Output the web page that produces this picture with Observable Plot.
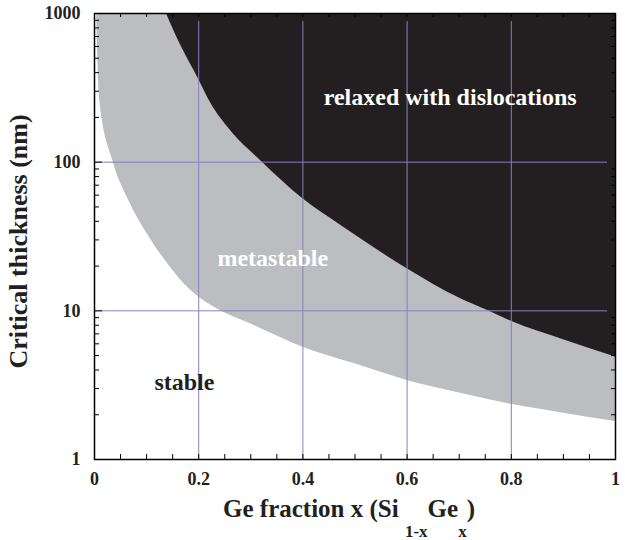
<!DOCTYPE html>
<html>
<head>
<meta charset="utf-8">
<script src="https://cdn.jsdelivr.net/npm/d3@7"></script>
<script src="https://cdn.jsdelivr.net/npm/@observablehq/plot@0.6"></script>
<style>
  body { margin: 0; background: #fff; }
  #chart svg { display: block; }
</style>
</head>
<body>
<div id="chart"></div>
<script>
// Lower boundary (stable / metastable)
const lowerX = [0.004, 0.010, 0.036, 0.066, 0.101, 0.146, 0.172, 0.200, 0.242, 0.300, 0.400, 0.500, 0.600, 0.700, 0.800, 0.900, 1.000];
const lowerY = [1000, 260, 100, 55, 33, 19.6, 15.2, 12.4, 10, 8.15, 5.7, 4.4, 3.4, 2.8, 2.35, 2.05, 1.8];
// Upper boundary (metastable / relaxed with dislocations)
const upperX = [0.138, 0.161, 0.200, 0.223, 0.261, 0.322, 0.400, 0.478, 0.600, 0.700, 0.756, 0.800, 0.900, 1.000];
const upperY = [1000, 657, 360, 250, 163, 100, 56.7, 36.5, 19.2, 12.2, 10, 8.5, 6.4, 4.9];

const xTickLabels = [0, 0.2, 0.4, 0.6, 0.8, 1];
const xMinorTicks = [0.05, 0.1, 0.15, 0.2, 0.25, 0.3, 0.35, 0.4, 0.45, 0.5, 0.55, 0.6, 0.65, 0.7, 0.75, 0.8, 0.85, 0.9, 0.95];
const yTickLabels = [1, 10, 100, 1000];
const yMinorTicks = [2, 3, 4, 5, 6, 7, 8, 9, 20, 30, 40, 50, 60, 70, 80, 90, 200, 300, 400, 500, 600, 700, 800, 900];
const xGrid = [0.2, 0.4, 0.6, 0.8];
const yGrid = [10, 100];

const regionLabels = ["relaxed with dislocations", "metastable", "stable"];
const regionX = [0.44, 0.236, 0.115];
const regionY = [272, 22.5, 3.3];
const regionFill = ["#ffffff", "#ffffff", "#231f20"];

const lower = lowerX.map((x, i) => ({x, y: lowerY[i]}));
const upper = upperX.map((x, i) => ({x, y: upperY[i]}));
const regions = regionLabels.map((t, i) => ({t, x: regionX[i], y: regionY[i], c: regionFill[i]}));

const W = 625, H = 540, mL = 94, mR = 10, mT = 13, mB = 81;
const pw = W - mL - mR, ph = H - mT - mB;
const grey = "#bcbdc0", black = "#231f20", purple = "#8880c4";
const font = "'Liberation Serif', 'Times New Roman', serif";

const chart = Plot.plot({
  width: W, height: H,
  marginLeft: mL, marginRight: mR, marginTop: mT, marginBottom: mB,
  style: {fontFamily: font, fontWeight: "bold", background: "#fff", color: "#231f20"},
  x: {type: "linear", domain: [0, 1]},
  y: {type: "log", domain: [1, 1000]},
  marks: [
    Plot.areaY(lower, {x: "x", y1: "y", y2: () => 1000, fill: grey, curve: "monotone-x"}),
    Plot.areaY(upper, {x: "x", y1: "y", y2: () => 1000, fill: black, curve: "monotone-x"}),
    Plot.ruleX(xGrid, {stroke: purple, strokeWidth: 1, insetTop: 8}),
    Plot.ruleY(yGrid, {stroke: purple, strokeWidth: 1, insetRight: 8}),
    // inward ticks
    Plot.ruleX(xMinorTicks, {stroke: "#000", insetTop: ph - 5}),
    Plot.ruleX(xMinorTicks, {stroke: "#000", insetBottom: ph - 4}),
    Plot.ruleY(yMinorTicks, {stroke: "#000", insetRight: pw - 5}),
    Plot.ruleY(yMinorTicks, {stroke: "#000", insetLeft: pw - 4}),
    Plot.ruleY(yTickLabels, {stroke: "#000", insetRight: pw - 8}),
    Plot.frame({stroke: "#000", strokeWidth: 1.5}),
    Plot.axisX({ticks: xTickLabels, tickSize: 0, tickPadding: 13, tickFormat: d => String(d), fontSize: 18, fontWeight: "bold", label: null}),
    Plot.axisY({ticks: yTickLabels, tickSize: 0, tickPadding: 14, tickFormat: d => String(d), fontSize: 18, fontWeight: "bold", label: null}),
    Plot.text(regions, {x: "x", y: "y", text: "t", fill: "c", textAnchor: "start", fontSize: 24, fontWeight: "bold"}),
    Plot.text(["Critical thickness (nm)"], {frameAnchor: "left", textAnchor: "middle", dx: -76, dy: 5, rotate: -90, fontSize: 26, fontWeight: "bold", fill: "#231f20"})
  ]
});

document.getElementById("chart").appendChild(chart);

// x-axis label with subscripts
const svg = d3.select(chart.tagName.toLowerCase() === "svg" ? chart : chart.querySelector("svg"));
const lab = svg.append("text")
  .attr("x", 349).attr("y", 517)
  .attr("text-anchor", "middle")
  .attr("font-family", font).attr("font-weight", "bold")
  .attr("font-size", 25).attr("fill", "#231f20");
lab.append("tspan").text("Ge fraction x (Si ");
lab.append("tspan").attr("dy", 20).attr("font-size", 17).text("1-x");
lab.append("tspan").attr("dy", -20).text("Ge");
lab.append("tspan").attr("dy", 20).attr("font-size", 17).text("x");
lab.append("tspan").attr("dy", -20).text(")");
</script>
</body>
</html>
